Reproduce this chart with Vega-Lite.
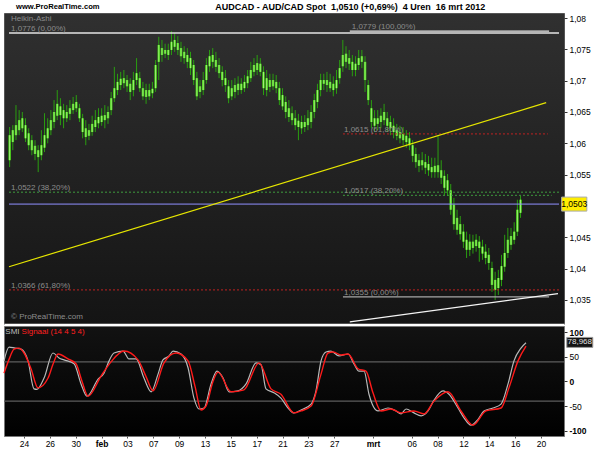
{
  "$schema": "https://vega.github.io/schema/vega-lite/v6.json",
  "background": "#ffffff",
  "padding": {"left": 0, "top": 2, "right": 0, "bottom": 0},
  "spacing": 0,
  "config": {"font": "Liberation Sans"},
  "resolve": {"scale": {"x": "independent", "y": "independent"}},
  "datasets": {
    "bars": [
      {"t":-1.5,"o":1.0573,"c":1.0613,"h":1.0626,"l":1.0562},
      {"t":-1.25,"o":1.0602,"c":1.0621,"h":1.0629,"l":1.0589},
      {"t":-1,"o":1.0613,"c":1.0629,"h":1.0661,"l":1.0605},
      {"t":-0.75,"o":1.0621,"c":1.0637,"h":1.0653,"l":1.0613},
      {"t":-0.5,"o":1.0624,"c":1.0640,"h":1.0650,"l":1.0618},
      {"t":-0.25,"o":1.0629,"c":1.0608,"h":1.0640,"l":1.0602},
      {"t":0,"o":1.0616,"c":1.0597,"h":1.0624,"l":1.0589},
      {"t":0.25,"o":1.0605,"c":1.0589,"h":1.0613,"l":1.0581},
      {"t":0.5,"o":1.0596,"c":1.0583,"h":1.0605,"l":1.0573},
      {"t":0.75,"o":1.0589,"c":1.0578,"h":1.0597,"l":1.0554},
      {"t":1,"o":1.0581,"c":1.0597,"h":1.0621,"l":1.0573},
      {"t":1.25,"o":1.0593,"c":1.0613,"h":1.0648,"l":1.0586},
      {"t":1.5,"o":1.0608,"c":1.0624,"h":1.0640,"l":1.0600},
      {"t":1.75,"o":1.0621,"c":1.0637,"h":1.0653,"l":1.0613},
      {"t":2,"o":1.0634,"c":1.0650,"h":1.0669,"l":1.0624},
      {"t":2.25,"o":1.0644,"c":1.0663,"h":1.0685,"l":1.0637},
      {"t":2.5,"o":1.0659,"c":1.0645,"h":1.0672,"l":1.0629},
      {"t":2.75,"o":1.0653,"c":1.0640,"h":1.0663,"l":1.0624},
      {"t":3,"o":1.0650,"c":1.0640,"h":1.0661,"l":1.0634},
      {"t":3.25,"o":1.0647,"c":1.0656,"h":1.0669,"l":1.0637},
      {"t":3.5,"o":1.0653,"c":1.0663,"h":1.0674,"l":1.0647},
      {"t":3.75,"o":1.0656,"c":1.0666,"h":1.0677,"l":1.0650},
      {"t":4,"o":1.0656,"c":1.0640,"h":1.0663,"l":1.0634},
      {"t":4.25,"o":1.0640,"c":1.0618,"h":1.0647,"l":1.0608},
      {"t":4.5,"o":1.0624,"c":1.0610,"h":1.0637,"l":1.0597},
      {"t":4.75,"o":1.0621,"c":1.0612,"h":1.0631,"l":1.0605},
      {"t":5,"o":1.0618,"c":1.0631,"h":1.0644,"l":1.0612},
      {"t":5.25,"o":1.0626,"c":1.0637,"h":1.0653,"l":1.0618},
      {"t":5.5,"o":1.0632,"c":1.0642,"h":1.0656,"l":1.0624},
      {"t":5.75,"o":1.0634,"c":1.0644,"h":1.0656,"l":1.0628},
      {"t":6,"o":1.0637,"c":1.0645,"h":1.0661,"l":1.0624},
      {"t":6.25,"o":1.0640,"c":1.0650,"h":1.0659,"l":1.0631},
      {"t":6.5,"o":1.0653,"c":1.0672,"h":1.0682,"l":1.0645},
      {"t":6.75,"o":1.0672,"c":1.0688,"h":1.0722,"l":1.0666},
      {"t":7,"o":1.0685,"c":1.0698,"h":1.0711,"l":1.0677},
      {"t":7.25,"o":1.0693,"c":1.0703,"h":1.0714,"l":1.0685},
      {"t":7.5,"o":1.0696,"c":1.0704,"h":1.0717,"l":1.0688},
      {"t":7.75,"o":1.0701,"c":1.0691,"h":1.0709,"l":1.0682},
      {"t":8,"o":1.0695,"c":1.0682,"h":1.0704,"l":1.0669},
      {"t":8.25,"o":1.0685,"c":1.0701,"h":1.0714,"l":1.0675},
      {"t":8.5,"o":1.0701,"c":1.0712,"h":1.0736,"l":1.0693},
      {"t":8.75,"o":1.0704,"c":1.0688,"h":1.0714,"l":1.0682},
      {"t":9,"o":1.0688,"c":1.0675,"h":1.0698,"l":1.0669},
      {"t":9.25,"o":1.0685,"c":1.0674,"h":1.0695,"l":1.0663},
      {"t":9.5,"o":1.0675,"c":1.0685,"h":1.0695,"l":1.0669},
      {"t":9.75,"o":1.0680,"c":1.0687,"h":1.0698,"l":1.0672},
      {"t":10,"o":1.0688,"c":1.0725,"h":1.0733,"l":1.0682},
      {"t":10.25,"o":1.0730,"c":1.0757,"h":1.0770,"l":1.0701},
      {"t":10.5,"o":1.0752,"c":1.0741,"h":1.0765,"l":1.0730},
      {"t":10.75,"o":1.0749,"c":1.0743,"h":1.0759,"l":1.0736},
      {"t":11,"o":1.0741,"c":1.0749,"h":1.0759,"l":1.0733},
      {"t":11.25,"o":1.0749,"c":1.0762,"h":1.0779,"l":1.0741},
      {"t":11.5,"o":1.0754,"c":1.0765,"h":1.0776,"l":1.0746},
      {"t":11.75,"o":1.0760,"c":1.0749,"h":1.0771,"l":1.0741},
      {"t":12,"o":1.0752,"c":1.0739,"h":1.0762,"l":1.0730},
      {"t":12.25,"o":1.0746,"c":1.0736,"h":1.0755,"l":1.0727},
      {"t":12.5,"o":1.0741,"c":1.0730,"h":1.0752,"l":1.0720},
      {"t":12.75,"o":1.0736,"c":1.0720,"h":1.0746,"l":1.0709},
      {"t":13,"o":1.0725,"c":1.0701,"h":1.0733,"l":1.0693},
      {"t":13.25,"o":1.0704,"c":1.0675,"h":1.0714,"l":1.0669},
      {"t":13.5,"o":1.0682,"c":1.0691,"h":1.0701,"l":1.0672},
      {"t":13.75,"o":1.0685,"c":1.0701,"h":1.0714,"l":1.0677},
      {"t":14,"o":1.0701,"c":1.0725,"h":1.0736,"l":1.0695},
      {"t":14.25,"o":1.0723,"c":1.0739,"h":1.0749,"l":1.0714},
      {"t":14.5,"o":1.0730,"c":1.0741,"h":1.0752,"l":1.0720},
      {"t":14.75,"o":1.0733,"c":1.0722,"h":1.0746,"l":1.0714},
      {"t":15,"o":1.0725,"c":1.0712,"h":1.0736,"l":1.0704},
      {"t":15.25,"o":1.0714,"c":1.0701,"h":1.0723,"l":1.0691},
      {"t":15.5,"o":1.0704,"c":1.0693,"h":1.0717,"l":1.0682},
      {"t":15.75,"o":1.0691,"c":1.0672,"h":1.0701,"l":1.0664},
      {"t":16,"o":1.0675,"c":1.0688,"h":1.0701,"l":1.0669},
      {"t":16.25,"o":1.0682,"c":1.0693,"h":1.0704,"l":1.0672},
      {"t":16.5,"o":1.0685,"c":1.0695,"h":1.0707,"l":1.0677},
      {"t":16.75,"o":1.0685,"c":1.0695,"h":1.0704,"l":1.0679},
      {"t":17,"o":1.0688,"c":1.0698,"h":1.0709,"l":1.0682},
      {"t":17.25,"o":1.0696,"c":1.0707,"h":1.0717,"l":1.0688},
      {"t":17.5,"o":1.0704,"c":1.0717,"h":1.0730,"l":1.0698},
      {"t":17.75,"o":1.0714,"c":1.0725,"h":1.0736,"l":1.0707},
      {"t":18,"o":1.0717,"c":1.0728,"h":1.0741,"l":1.0709},
      {"t":18.25,"o":1.0727,"c":1.0714,"h":1.0736,"l":1.0707},
      {"t":18.5,"o":1.0714,"c":1.0688,"h":1.0723,"l":1.0677},
      {"t":18.75,"o":1.0704,"c":1.0685,"h":1.0717,"l":1.0675},
      {"t":19,"o":1.0690,"c":1.0701,"h":1.0711,"l":1.0682},
      {"t":19.25,"o":1.0691,"c":1.0701,"h":1.0711,"l":1.0685},
      {"t":19.5,"o":1.0698,"c":1.0688,"h":1.0709,"l":1.0680},
      {"t":19.75,"o":1.0688,"c":1.0669,"h":1.0698,"l":1.0661},
      {"t":20,"o":1.0677,"c":1.0659,"h":1.0688,"l":1.0653},
      {"t":20.25,"o":1.0666,"c":1.0650,"h":1.0675,"l":1.0640},
      {"t":20.5,"o":1.0656,"c":1.0642,"h":1.0669,"l":1.0634},
      {"t":20.75,"o":1.0648,"c":1.0637,"h":1.0659,"l":1.0629},
      {"t":21,"o":1.0640,"c":1.0629,"h":1.0653,"l":1.0621},
      {"t":21.25,"o":1.0636,"c":1.0626,"h":1.0647,"l":1.0605},
      {"t":21.5,"o":1.0634,"c":1.0624,"h":1.0644,"l":1.0615},
      {"t":21.75,"o":1.0626,"c":1.0634,"h":1.0645,"l":1.0618},
      {"t":22,"o":1.0629,"c":1.0640,"h":1.0653,"l":1.0621},
      {"t":22.25,"o":1.0634,"c":1.0650,"h":1.0661,"l":1.0624},
      {"t":22.5,"o":1.0650,"c":1.0669,"h":1.0679,"l":1.0640},
      {"t":22.75,"o":1.0666,"c":1.0685,"h":1.0695,"l":1.0656},
      {"t":23,"o":1.0685,"c":1.0701,"h":1.0711,"l":1.0675},
      {"t":23.25,"o":1.0695,"c":1.0701,"h":1.0711,"l":1.0685},
      {"t":23.5,"o":1.0701,"c":1.0693,"h":1.0714,"l":1.0682},
      {"t":23.75,"o":1.0698,"c":1.0688,"h":1.0711,"l":1.0682},
      {"t":24,"o":1.0695,"c":1.0685,"h":1.0707,"l":1.0675},
      {"t":24.25,"o":1.0688,"c":1.0701,"h":1.0717,"l":1.0679},
      {"t":24.5,"o":1.0704,"c":1.0720,"h":1.0733,"l":1.0695},
      {"t":24.75,"o":1.0723,"c":1.0741,"h":1.0765,"l":1.0714},
      {"t":25,"o":1.0730,"c":1.0743,"h":1.0755,"l":1.0720},
      {"t":25.25,"o":1.0736,"c":1.0727,"h":1.0749,"l":1.0717},
      {"t":25.5,"o":1.0730,"c":1.0717,"h":1.0741,"l":1.0707},
      {"t":25.75,"o":1.0727,"c":1.0717,"h":1.0739,"l":1.0707},
      {"t":26,"o":1.0725,"c":1.0736,"h":1.0749,"l":1.0717},
      {"t":26.25,"o":1.0730,"c":1.0739,"h":1.0749,"l":1.0720},
      {"t":26.5,"o":1.0730,"c":1.0701,"h":1.0739,"l":1.0682},
      {"t":26.75,"o":1.0693,"c":1.0669,"h":1.0701,"l":1.0661},
      {"t":27,"o":1.0656,"c":1.0634,"h":1.0669,"l":1.0624},
      {"t":27.25,"o":1.0640,"c":1.0628,"h":1.0653,"l":1.0618},
      {"t":27.5,"o":1.0631,"c":1.0640,"h":1.0653,"l":1.0621},
      {"t":27.75,"o":1.0634,"c":1.0644,"h":1.0656,"l":1.0624},
      {"t":28,"o":1.0637,"c":1.0650,"h":1.0663,"l":1.0629},
      {"t":28.25,"o":1.0640,"c":1.0628,"h":1.0650,"l":1.0618},
      {"t":28.5,"o":1.0634,"c":1.0624,"h":1.0644,"l":1.0613},
      {"t":28.75,"o":1.0628,"c":1.0618,"h":1.0640,"l":1.0608},
      {"t":29,"o":1.0621,"c":1.0612,"h":1.0631,"l":1.0605},
      {"t":29.25,"o":1.0618,"c":1.0608,"h":1.0628,"l":1.0600},
      {"t":29.5,"o":1.0615,"c":1.0605,"h":1.0626,"l":1.0597},
      {"t":29.75,"o":1.0612,"c":1.0602,"h":1.0621,"l":1.0593},
      {"t":30,"o":1.0608,"c":1.0597,"h":1.0618,"l":1.0589},
      {"t":30.25,"o":1.0597,"c":1.0580,"h":1.0605,"l":1.0570},
      {"t":30.5,"o":1.0583,"c":1.0570,"h":1.0593,"l":1.0561},
      {"t":30.75,"o":1.0573,"c":1.0564,"h":1.0583,"l":1.0554},
      {"t":31,"o":1.0565,"c":1.0573,"h":1.0586,"l":1.0557},
      {"t":31.25,"o":1.0570,"c":1.0561,"h":1.0583,"l":1.0551},
      {"t":31.5,"o":1.0567,"c":1.0557,"h":1.0580,"l":1.0548},
      {"t":31.75,"o":1.0562,"c":1.0554,"h":1.0577,"l":1.0545},
      {"t":32,"o":1.0554,"c":1.0564,"h":1.0577,"l":1.0545},
      {"t":32.25,"o":1.0565,"c":1.0554,"h":1.0613,"l":1.0545},
      {"t":32.5,"o":1.0557,"c":1.0545,"h":1.0573,"l":1.0535},
      {"t":32.75,"o":1.0548,"c":1.0529,"h":1.0557,"l":1.0517},
      {"t":33,"o":1.0541,"c":1.0525,"h":1.0551,"l":1.0516},
      {"t":33.25,"o":1.0525,"c":1.0494,"h":1.0535,"l":1.0486},
      {"t":33.5,"o":1.0502,"c":1.0471,"h":1.0513,"l":1.0462},
      {"t":33.75,"o":1.0481,"c":1.0462,"h":1.0494,"l":1.0454},
      {"t":34,"o":1.0471,"c":1.0455,"h":1.0484,"l":1.0446},
      {"t":34.25,"o":1.0459,"c":1.0443,"h":1.0471,"l":1.0433},
      {"t":34.5,"o":1.0446,"c":1.0430,"h":1.0459,"l":1.0417},
      {"t":34.75,"o":1.0443,"c":1.0430,"h":1.0455,"l":1.0420},
      {"t":35,"o":1.0433,"c":1.0443,"h":1.0454,"l":1.0424},
      {"t":35.25,"o":1.0436,"c":1.0446,"h":1.0455,"l":1.0427},
      {"t":35.5,"o":1.0443,"c":1.0433,"h":1.0452,"l":1.0411},
      {"t":35.75,"o":1.0435,"c":1.0424,"h":1.0446,"l":1.0414},
      {"t":36,"o":1.0427,"c":1.0417,"h":1.0439,"l":1.0407},
      {"t":36.25,"o":1.0422,"c":1.0409,"h":1.0433,"l":1.0398},
      {"t":36.5,"o":1.0401,"c":1.0374,"h":1.0411,"l":1.0363},
      {"t":36.75,"o":1.0382,"c":1.0366,"h":1.0395,"l":1.0350},
      {"t":37,"o":1.0369,"c":1.0385,"h":1.0398,"l":1.0358},
      {"t":37.25,"o":1.0382,"c":1.0404,"h":1.0422,"l":1.0372},
      {"t":37.5,"o":1.0403,"c":1.0425,"h":1.0454,"l":1.0395},
      {"t":37.75,"o":1.0425,"c":1.0446,"h":1.0465,"l":1.0417},
      {"t":38,"o":1.0438,"c":1.0452,"h":1.0465,"l":1.0430},
      {"t":38.25,"o":1.0446,"c":1.0459,"h":1.0474,"l":1.0439},
      {"t":38.5,"o":1.0459,"c":1.0494,"h":1.0510,"l":1.0452},
      {"t":38.75,"o":1.0489,"c":1.0510,"h":1.0516,"l":1.0481}
    ],
    "lines": [
      {"k":"fib0","t1":-1.55,"t2":41.78,"p1":1.0776,"p2":1.0776},
      {"k":"fib0","t1":25.3,"t2":41.0,"p1":1.0779,"p2":1.0779},
      {"k":"fib38","t1":-1.55,"t2":41.78,"p1":1.0522,"p2":1.0522},
      {"k":"fib38","t1":24.76,"t2":41.2,"p1":1.0517,"p2":1.0517},
      {"k":"fib62","t1":-1.55,"t2":41.78,"p1":1.0366,"p2":1.0366},
      {"k":"fib62","t1":24.76,"t2":40.9,"p1":1.0615,"p2":1.0615},
      {"k":"fibBase","t1":24.76,"t2":41.0,"p1":1.0355,"p2":1.0355},
      {"k":"last","t1":-1.55,"t2":41.78,"p1":1.0503,"p2":1.0503},
      {"k":"trendUp","t1":-1.55,"t2":40.77,"p1":1.0403,"p2":1.0665},
      {"k":"trendLow","t1":25.3,"t2":41.7,"p1":1.0315,"p2":1.0360}
    ],
    "notes": [
      {"k":"hdr1","t":-1.0,"p":1.0818,"s":"www.ProRealTime.com"},
      {"k":"hdr2","t":14.7,"p":1.0818,"s":"AUDCAD - AUD/CAD Spot \u00a01,0510 (+0,69%) \u00a04 Uren \u00a016 mrt 2012"},
      {"k":"name","t":-1.39,"p":1.0798,"s":"Heikin-Ashi"},
      {"k":"fib","t":-1.39,"p":1.0776,"s":"1,0776 (0,00%)"},
      {"k":"fib","t":25.45,"p":1.0779,"s":"1,0779 (100,00%)"},
      {"k":"fib","t":24.84,"p":1.0615,"s":"1,0615 (61,80%)"},
      {"k":"fib","t":-1.39,"p":1.0522,"s":"1,0522 (38,20%)"},
      {"k":"fib","t":24.84,"p":1.0517,"s":"1,0517 (38,20%)"},
      {"k":"fib","t":-1.39,"p":1.0366,"s":"1,0366 (61,80%)"},
      {"k":"fib","t":24.84,"p":1.0355,"s":"1,0355 (0,00%)"},
      {"k":"name","t":-1.39,"p":1.0322,"s":"\u00a9 ProRealTime.com"}
    ],
    "tagTop": [{"t":42.98,"p":1.0503,"s":"1,0503"}],
    "levels": [{"v":40},{"v":-40}],
    "smiLabels": [
      {"k":"smi","t":-1.45,"v":101,"s":"SMI"},
      {"k":"sig","t":-0.19,"v":101,"s":"Signaal (14 4 5 4)"}
    ],
    "tagBot": [{"t":43.0,"v":79.6,"s":"78,968"}],
    "smi": [
      {"t":-1.55,"v":42},{"t":-1.16,"v":70},{"t":-0.7,"v":68},{"t":-0.23,"v":66},{"t":0.31,"v":42},
      {"t":0.77,"v":-15},{"t":1.0,"v":-16},{"t":1.55,"v":7},{"t":2.24,"v":58},{"t":2.71,"v":48},
      {"t":3.09,"v":44},{"t":3.87,"v":36},{"t":4.41,"v":-5},{"t":4.87,"v":-30},{"t":5.73,"v":5},
      {"t":6.19,"v":17},{"t":6.58,"v":42},{"t":6.96,"v":58},{"t":7.66,"v":62},{"t":8.12,"v":46},
      {"t":8.67,"v":46},{"t":9.28,"v":7},{"t":9.83,"v":-21},{"t":10.37,"v":15},{"t":10.75,"v":44},
      {"t":11.22,"v":52},{"t":11.53,"v":62},{"t":12.15,"v":56},{"t":12.69,"v":28},{"t":13.15,"v":-34},
      {"t":13.54,"v":-56},{"t":13.93,"v":-54},{"t":14.47,"v":-5},{"t":14.93,"v":21},{"t":15.4,"v":7},
      {"t":15.86,"v":-21},{"t":16.56,"v":-19},{"t":17.18,"v":-5},{"t":17.95,"v":38},{"t":18.34,"v":34},
      {"t":18.72,"v":-15},{"t":19.34,"v":-23},{"t":19.88,"v":-34},{"t":20.43,"v":-54},{"t":20.89,"v":-64},
      {"t":21.43,"v":-58},{"t":22.21,"v":-46},{"t":22.59,"v":-19},{"t":22.98,"v":42},{"t":23.36,"v":60},
      {"t":23.75,"v":62},{"t":24.37,"v":52},{"t":25.07,"v":56},{"t":25.53,"v":36},{"t":25.92,"v":21},
      {"t":26.31,"v":21},{"t":26.69,"v":-26},{"t":27.39,"v":-60},{"t":28.16,"v":-54},{"t":28.78,"v":-60},
      {"t":29.17,"v":-66},{"t":29.56,"v":-56},{"t":30.17,"v":-64},{"t":30.72,"v":-70},{"t":31.26,"v":-60},
      {"t":31.72,"v":-38},{"t":32.42,"v":-19},{"t":32.88,"v":-26},{"t":33.58,"v":-54},{"t":34.04,"v":-74},
      {"t":34.58,"v":-89},{"t":35.13,"v":-77},{"t":35.59,"v":-60},{"t":36.29,"v":-54},{"t":36.91,"v":-46},
      {"t":37.45,"v":-5},{"t":37.91,"v":42},{"t":38.45,"v":68},{"t":38.84,"v":79}
    ],
    "sig": [
      {"t":-1.55,"v":17},{"t":-1.16,"v":45},{"t":-0.77,"v":66},{"t":-0.39,"v":68},{"t":0.0,"v":58},
      {"t":0.54,"v":26},{"t":1.08,"v":-13},{"t":1.86,"v":7},{"t":2.24,"v":35},{"t":2.63,"v":56},
      {"t":3.4,"v":46},{"t":4.02,"v":36},{"t":4.49,"v":0},{"t":4.95,"v":-30},{"t":5.96,"v":11},
      {"t":6.73,"v":40},{"t":7.74,"v":62},{"t":8.82,"v":44},{"t":9.44,"v":10},{"t":9.98,"v":-19},
      {"t":10.83,"v":38},{"t":11.76,"v":58},{"t":12.69,"v":42},{"t":13.23,"v":-10},{"t":13.69,"v":-58},
      {"t":14.08,"v":-50},{"t":14.62,"v":0},{"t":15.01,"v":19},{"t":16.02,"v":-21},{"t":17.02,"v":-17},
      {"t":18.18,"v":38},{"t":19.11,"v":-15},{"t":19.88,"v":-26},{"t":20.89,"v":-64},{"t":21.43,"v":-60},
      {"t":22.21,"v":-50},{"t":22.98,"v":15},{"t":23.52,"v":58},{"t":23.91,"v":60},{"t":24.53,"v":54},
      {"t":25.07,"v":56},{"t":25.84,"v":26},{"t":26.46,"v":21},{"t":27.0,"v":-23},{"t":27.62,"v":-60},
      {"t":28.39,"v":-56},{"t":29.17,"v":-64},{"t":30.17,"v":-60},{"t":30.95,"v":-66},{"t":31.72,"v":-40},
      {"t":32.8,"v":-21},{"t":33.81,"v":-60},{"t":34.74,"v":-89},{"t":35.74,"v":-60},{"t":36.91,"v":-54},
      {"t":37.52,"v":-13},{"t":38.22,"v":42},{"t":38.84,"v":72}
    ]
  },
  "vconcat": [
    {
      "width": 560,
      "height": 311,
      "view": {"fill": {"gradient": "linear", "x1": 0, "y1": 0, "x2": 0, "y2": 1, "stops": [{"offset": 0, "color": "#303030"}, {"offset": 1, "color": "#141414"}]}, "stroke": "#555555"},
      "encoding": {
        "x": {"type": "quantitative", "scale": {"domain": [-1.55, 41.78], "nice": false, "zero": false},
              "axis": {"orient": "bottom", "labels": false, "ticks": false, "domain": true, "domainColor": "#ffffff", "domainWidth": 1.5, "title": null, "grid": false}},
        "y": {"type": "quantitative", "scale": {"domain": [1.03116, 1.0808], "nice": false, "zero": false},
              "axis": {"orient": "right", "values": [1.035, 1.04, 1.045, 1.055, 1.06, 1.065, 1.07, 1.075, 1.08],
                       "labelExpr": "replace(format(datum.value, '.3~f'), '.', ',')", "title": null, "grid": false,
                       "domain": false, "tickSize": 3, "tickColor": "#333333", "labelColor": "#000000", "labelFontSize": 8.5, "labelPadding": 2}}
      },
      "layer": [
        {
          "data": {"name": "bars"},
          "mark": {"type": "rule", "color": "#2a9e10", "strokeWidth": 1},
          "encoding": {"x": {"field": "t"}, "y": {"field": "l"}, "y2": {"field": "h"}}
        },
        {
          "data": {"name": "bars"},
          "mark": {"type": "bar", "width": 2.5, "color": "#42d012"},
          "encoding": {"x": {"field": "t"}, "y": {"field": "o"}, "y2": {"field": "c"}}
        },
        {
          "data": {"name": "bars"},
          "mark": {"type": "rule", "color": "#d6ffb4", "strokeWidth": 0.8, "opacity": 0.8},
          "encoding": {"x": {"field": "t"}, "y": {"field": "o"}, "y2": {"field": "c"}}
        },
        {
          "data": {"name": "lines"},
          "transform": [{"filter": "datum.k == 'fib0'"}],
          "mark": {"type": "rule", "color": "#e4e4e4", "strokeWidth": 1.4},
          "encoding": {"x": {"field": "t1"}, "x2": {"field": "t2"}, "y": {"field": "p1"}, "y2": {"field": "p2"}}
        },
        {
          "data": {"name": "lines"},
          "transform": [{"filter": "datum.k == 'fib38'"}],
          "mark": {"type": "rule", "color": "#3f9c3f", "strokeWidth": 1, "strokeDash": [2, 2]},
          "encoding": {"x": {"field": "t1"}, "x2": {"field": "t2"}, "y": {"field": "p1"}, "y2": {"field": "p2"}}
        },
        {
          "data": {"name": "lines"},
          "transform": [{"filter": "datum.k == 'fib62'"}],
          "mark": {"type": "rule", "color": "#c02222", "strokeWidth": 1, "strokeDash": [2, 2]},
          "encoding": {"x": {"field": "t1"}, "x2": {"field": "t2"}, "y": {"field": "p1"}, "y2": {"field": "p2"}}
        },
        {
          "data": {"name": "lines"},
          "transform": [{"filter": "datum.k == 'fibBase'"}],
          "mark": {"type": "rule", "color": "#a8a8a8", "strokeWidth": 1.3},
          "encoding": {"x": {"field": "t1"}, "x2": {"field": "t2"}, "y": {"field": "p1"}, "y2": {"field": "p2"}}
        },
        {
          "data": {"name": "lines"},
          "transform": [{"filter": "datum.k == 'last'"}],
          "mark": {"type": "rule", "color": "#8f8fff", "strokeWidth": 1},
          "encoding": {"x": {"field": "t1"}, "x2": {"field": "t2"}, "y": {"field": "p1"}, "y2": {"field": "p2"}}
        },
        {
          "data": {"name": "lines"},
          "transform": [{"filter": "datum.k == 'trendUp'"}],
          "mark": {"type": "rule", "color": "#e6e600", "strokeWidth": 1.2},
          "encoding": {"x": {"field": "t1"}, "x2": {"field": "t2"}, "y": {"field": "p1"}, "y2": {"field": "p2"}}
        },
        {
          "data": {"name": "lines"},
          "transform": [{"filter": "datum.k == 'trendLow'"}],
          "mark": {"type": "rule", "color": "#f4f4f4", "strokeWidth": 1.3},
          "encoding": {"x": {"field": "t1"}, "x2": {"field": "t2"}, "y": {"field": "p1"}, "y2": {"field": "p2"}}
        },
        {
          "data": {"name": "notes"},
          "transform": [{"filter": "datum.k == 'hdr1'"}],
          "mark": {"type": "text", "align": "left", "baseline": "middle", "fontSize": 7.6, "fontWeight": "bold", "color": "#000000"},
          "encoding": {"x": {"field": "t"}, "y": {"field": "p"}, "text": {"field": "s"}}
        },
        {
          "data": {"name": "notes"},
          "transform": [{"filter": "datum.k == 'hdr2'"}],
          "mark": {"type": "text", "align": "left", "baseline": "middle", "fontSize": 9, "fontWeight": "bold", "color": "#000000"},
          "encoding": {"x": {"field": "t"}, "y": {"field": "p"}, "text": {"field": "s"}}
        },
        {
          "data": {"name": "notes"},
          "transform": [{"filter": "datum.k == 'name'"}],
          "mark": {"type": "text", "align": "left", "baseline": "middle", "fontSize": 8, "color": "#8c8c8c"},
          "encoding": {"x": {"field": "t"}, "y": {"field": "p"}, "text": {"field": "s"}}
        },
        {
          "data": {"name": "notes"},
          "transform": [{"filter": "datum.k == 'fib'"}],
          "mark": {"type": "text", "align": "left", "baseline": "alphabetic", "dy": -2, "fontSize": 8, "color": "#8c8c8c"},
          "encoding": {"x": {"field": "t"}, "y": {"field": "p"}, "text": {"field": "s"}}
        },
        {
          "data": {"name": "tagTop"},
          "mark": {"type": "point", "shape": "M-1.8,-1H1.8V1H-1.8Z", "size": 196, "filled": true, "fill": "#ffee00", "stroke": "#aaaaaa", "strokeWidth": 1, "opacity": 1},
          "encoding": {"x": {"field": "t"}, "y": {"field": "p"}}
        },
        {
          "data": {"name": "tagTop"},
          "mark": {"type": "text", "align": "center", "baseline": "middle", "fontSize": 8.5, "color": "#000000"},
          "encoding": {"x": {"field": "t"}, "y": {"field": "p"}, "text": {"field": "s"}}
        }
      ]
    },
    {
      "width": 560,
      "height": 110,
      "view": {"fill": {"gradient": "linear", "x1": 0, "y1": 0, "x2": 0, "y2": 1, "stops": [{"offset": 0, "color": "#121212"}, {"offset": 1, "color": "#000000"}]}, "stroke": "#777777"},
      "encoding": {
        "x": {"type": "quantitative", "scale": {"domain": [-1.55, 41.78], "nice": false, "zero": false},
              "axis": {"orient": "bottom", "values": [0, 2, 4, 6, 8, 10, 12, 14, 16, 18, 20, 22, 24, 27, 30, 32, 34, 36, 38, 40],
                       "labelExpr": "['24','','26','','30','','feb','','03','','07','','09','','13','','15','','17','','21','','23','','27','','','mrt','','','06','','08','','12','','14','','16','','20'][datum.value]",
                       "title": null, "grid": false, "domain": false, "ticks": true, "tickSize": 2, "tickColor": "#555555",
                       "labelColor": "#000000", "labelFontSize": 8.5, "labelPadding": 1, "labelOverlap": false, "labelFlush": false,
                       "labelFontWeight": {"condition": {"test": "datum.value == 6 || datum.value == 27", "value": "bold"}, "value": "normal"}}},
        "y": {"type": "quantitative", "scale": {"domain": [-111, 113], "nice": false, "zero": false},
              "axis": {"orient": "right", "values": [-100, -50, 0, 50, 100], "labelExpr": "datum.value + ''", "title": null, "grid": false,
                       "domain": false, "tickSize": 3, "tickColor": "#333333", "labelColor": "#000000", "labelFontSize": 8.5, "labelPadding": 2,
                       "labelFontWeight": {"condition": {"test": "datum.value % 100 == 0", "value": "bold"}, "value": "normal"}}}
      },
      "layer": [
        {
          "data": {"name": "levels"},
          "mark": {"type": "rule", "color": "#5c5c5c", "strokeWidth": 1.3},
          "encoding": {"x": null, "y": {"field": "v"}}
        },
        {
          "data": {"name": "smi"},
          "mark": {"type": "line", "color": "#b8b8b8", "strokeWidth": 1.2, "interpolate": "monotone"},
          "encoding": {"x": {"field": "t"}, "y": {"field": "v"}}
        },
        {
          "data": {"name": "sig"},
          "mark": {"type": "line", "color": "#ff1a1a", "strokeWidth": 1.4, "interpolate": "monotone"},
          "encoding": {"x": {"field": "t"}, "y": {"field": "v"}}
        },
        {
          "data": {"name": "smiLabels"},
          "transform": [{"filter": "datum.k == 'smi'"}],
          "mark": {"type": "text", "align": "left", "baseline": "middle", "fontSize": 8, "color": "#bdbdbd"},
          "encoding": {"x": {"field": "t"}, "y": {"field": "v"}, "text": {"field": "s"}}
        },
        {
          "data": {"name": "smiLabels"},
          "transform": [{"filter": "datum.k == 'sig'"}],
          "mark": {"type": "text", "align": "left", "baseline": "middle", "fontSize": 8, "color": "#ff2020"},
          "encoding": {"x": {"field": "t"}, "y": {"field": "v"}, "text": {"field": "s"}}
        },
        {
          "data": {"name": "tagBot"},
          "mark": {"type": "point", "shape": "M-2.6,-1H2.6V1H-2.6Z", "size": 100, "filled": true, "fill": "#141414", "stroke": "#9a9a9a", "strokeWidth": 1, "opacity": 1},
          "encoding": {"x": {"field": "t"}, "y": {"field": "v"}}
        },
        {
          "data": {"name": "tagBot"},
          "mark": {"type": "text", "align": "center", "baseline": "middle", "fontSize": 8, "color": "#e0e0e0"},
          "encoding": {"x": {"field": "t"}, "y": {"field": "v"}, "text": {"field": "s"}}
        }
      ]
    }
  ]
}
